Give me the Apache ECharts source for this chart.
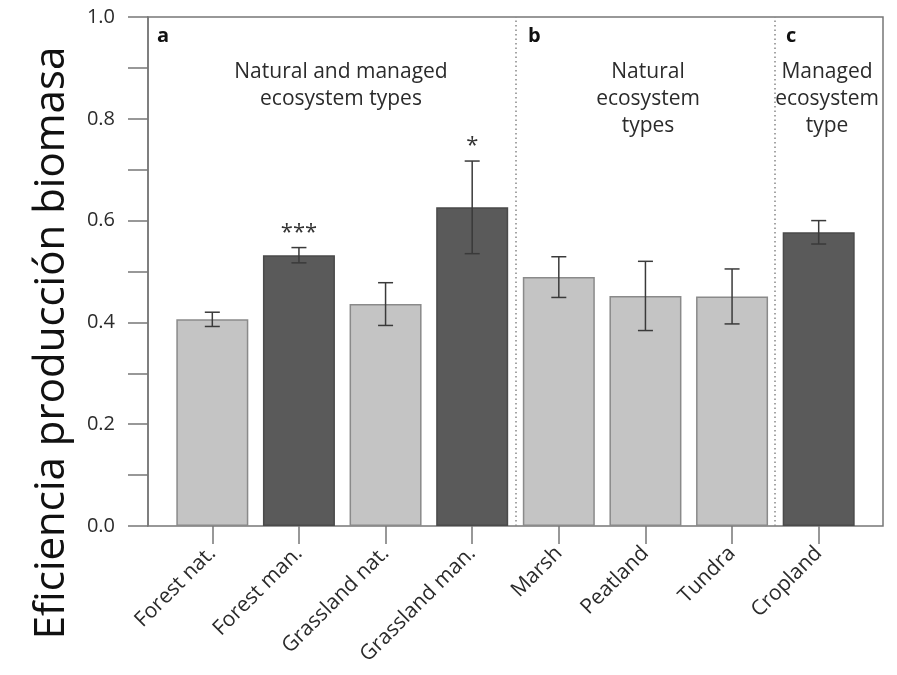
<!DOCTYPE html>
<html>
<head>
<meta charset="utf-8">
<script src="https://cdn.jsdelivr.net/npm/echarts@6/dist/echarts.min.js"></script>
<style>
  html, body { margin: 0; padding: 0; background: #fff; }
  #chart { width: 897px; height: 675px; }
</style>
</head>
<body>
<div id="chart"></div>
<script>
// Ecosystem categories and mean biomass production efficiency with standard errors
const categories = ['Forest nat.', 'Forest man.', 'Grassland nat.', 'Grassland man.', 'Marsh', 'Peatland', 'Tundra', 'Cropland'];
const means = [0.406, 0.532, 0.436, 0.626, 0.489, 0.452, 0.451, 0.577];
const errors = [0.014, 0.015, 0.042, 0.091, 0.040, 0.068, 0.054, 0.023];
const managed = [false, true, false, true, false, false, false, true];
const significance = ['', '***', '', '*', '', '', '', ''];
// Panel separators sit between category groups (index units)
const dividers = [3.5, 6.5];
const yTickValues = [0.0, 0.2, 0.4, 0.6, 0.8, 1.0];
const yTitle = 'Eficiencia producción biomasa';

const FONT = 'Open Sans';
const TEXT = '#2b2b2b';
const AXIS = '#777777';
const LIGHT = '#c4c4c4';
const DARK = '#5a5a5a';

const chart = echarts.init(document.getElementById('chart'), null, { renderer: 'canvas' });

const option = {
  animation: false,
  backgroundColor: '#ffffff',
  textStyle: { fontFamily: FONT },
  grid: [
    // frame with y axis
    { left: 148, right: 14, top: 17, bottom: 149, outerBoundsMode: 'none', containLabel: false,
      show: true, borderColor: AXIS, borderWidth: 1.5, backgroundColor: 'transparent' },
    // bar area
    { left: 169, right: 35, top: 17, bottom: 149, outerBoundsMode: 'none', containLabel: false }
  ],
  xAxis: [
    { type: 'value', gridIndex: 0, min: -0.75, max: 7.75, show: false },
    {
      type: 'category', gridIndex: 1, data: categories,
      axisLine: { show: false },
      axisTick: { show: true, alignWithLabel: true, length: 18, lineStyle: { color: AXIS, width: 1.5 } },
      axisLabel: { rotate: 45, margin: 24, fontSize: 21, color: TEXT, fontFamily: FONT },
      splitLine: { show: false }
    }
  ],
  yAxis: [
    {
      type: 'value', gridIndex: 0, min: 0, max: 1, interval: 0.1,
      axisLine: { show: true, onZero: false, lineStyle: { color: AXIS, width: 1.5 } },
      axisTick: { show: true, inside: false, length: 20, lineStyle: { color: AXIS, width: 1.5 } },
      axisLabel: {
        margin: 33, fontSize: 20, color: TEXT, fontFamily: FONT,
        formatter: function (v) {
          const hit = yTickValues.some(function (t) { return Math.abs(t - v) < 1e-6; });
          return hit ? v.toFixed(1) : '';
        }
      },
      splitLine: { show: false }
    },
    { type: 'value', gridIndex: 1, min: 0, max: 1, show: false }
  ],
  series: [
    {
      type: 'line', xAxisIndex: 0, yAxisIndex: 0, data: [], silent: true,
      markLine: {
        silent: true, symbol: 'none', label: { show: false },
        lineStyle: { type: [1.5, 3], color: '#888', width: 1.5 },
        data: dividers.map(function (d) { return [{ coord: [d, 0] }, { coord: [d, 1] }]; })
      }
    },
    {
      type: 'bar', xAxisIndex: 1, yAxisIndex: 1, barWidth: 72,
      data: means.map(function (m, i) {
        return {
          value: m,
          itemStyle: { color: managed[i] ? DARK : LIGHT, borderColor: managed[i] ? '#4a4a4a' : '#8a8a8a', borderWidth: 1.5 }
        };
      })
    },
    {
      type: 'custom', xAxisIndex: 1, yAxisIndex: 1, z: 5,
      data: means.map(function (m, i) { return [i, m, errors[i]]; }),
      renderItem: function (params, api) {
        const i = api.value(0), m = api.value(1), e = api.value(2);
        const top = api.coord([i, m + e]);
        const bot = api.coord([i, m - e]);
        const hw = 7.5;
        const style = { stroke: '#3a3a3a', lineWidth: 1.5 };
        const children = [
          { type: 'line', shape: { x1: top[0], y1: top[1], x2: bot[0], y2: bot[1] }, style: style },
          { type: 'line', shape: { x1: top[0] - hw, y1: top[1], x2: top[0] + hw, y2: top[1] }, style: style },
          { type: 'line', shape: { x1: bot[0] - hw, y1: bot[1], x2: bot[0] + hw, y2: bot[1] }, style: style }
        ];
        const sig = significance[params.dataIndex];
        if (sig) {
          children.push({
            type: 'text', x: top[0], y: top[1] - 15,
            style: { text: sig, fill: '#333', font: '22px "' + FONT + '"', align: 'center', verticalAlign: 'middle' }
          });
        }
        return { type: 'group', children: children };
      }
    }
  ],
  graphic: [
    // vertical axis title
    { type: 'text', x: 52, y: 343, rotation: Math.PI / 2,
      style: { text: yTitle, font: '42px "' + FONT + '"', fill: '#111', align: 'center', verticalAlign: 'middle' } },
    // panel tags and headings
    { type: 'text', left: 157, top: 26, style: { text: 'a', font: 'bold 20px "' + FONT + '"', fill: '#111' } },
    { type: 'text', left: 528, top: 26, style: { text: 'b', font: 'bold 20px "' + FONT + '"', fill: '#111' } },
    { type: 'text', left: 786, top: 26, style: { text: 'c', font: 'bold 20px "' + FONT + '"', fill: '#111' } },
    { type: 'text', x: 341, y: 59, style: { text: 'Natural and managed\necosystem types', font: '21px "' + FONT + '"', lineHeight: 27, fill: TEXT, align: 'center' } },
    { type: 'text', x: 648, y: 59, style: { text: 'Natural\necosystem\ntypes', font: '21px "' + FONT + '"', lineHeight: 27, fill: TEXT, align: 'center' } },
    { type: 'text', x: 827, y: 59, style: { text: 'Managed\necosystem\ntype', font: '21px "' + FONT + '"', lineHeight: 27, fill: TEXT, align: 'center' } }
  ]
};

chart.setOption(option);
</script>
</body>
</html>
